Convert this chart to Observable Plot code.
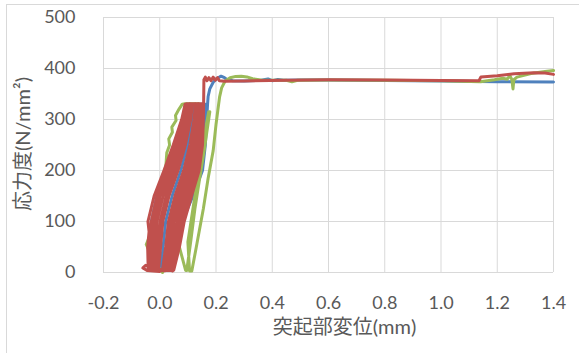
<!DOCTYPE html>
<html><head><meta charset="utf-8">
<script src="https://cdn.jsdelivr.net/npm/d3@7"></script>
<script src="https://cdn.jsdelivr.net/npm/@observablehq/plot@0.6"></script>
<style>
html,body{margin:0;padding:0;background:#fff;}
#wrap{position:relative;width:579px;height:353px;overflow:hidden;}
#border{position:absolute;left:6px;top:4px;width:700px;height:500px;border-top:1px solid #d9d9d9;border-left:1px solid #d9d9d9;}
#chart{position:absolute;left:0;top:0;}
</style>
</head><body>
<div id="wrap"><div id="border"></div><div id="chart"></div></div>
<script>
const xTicks = [-0.2, 0.0, 0.2, 0.4, 0.6, 0.8, 1.0, 1.2, 1.4];
const yTicks = [0, 100, 200, 300, 400, 500];
const xTitle = "突起部変位(mm)";
const yTitle = "応力度(N/mm²)";

// series 1 (blue): [displacement mm, stress N/mm2]
const blueXY = [
  [0.003,5],[0.012,50],[0.021,100],[0.044,150],[0.075,200],[0.099,250],[0.116,300],[0.122,330],
  [0.15,330],[0.148,300],[0.14,250],[0.125,200],[0.1,150],[0.075,100],[0.055,50],[0.04,5],
  [-0.03,5],[-0.03,50],[-0.03,100],[-0.01,150],[0.025,200],[0.06,250],[0.09,300],[0.1,330],
  [0.163,330],[0.16,300],[0.156,250],[0.148,200],[0.115,150],[0.08,100],[0.055,50],[0.038,5],
  [0.042,5],[0.058,50],[0.08,100],[0.118,150],[0.152,200],[0.162,250],[0.167,300],[0.17,330],
  [0.172,345],[0.178,360],[0.19,373],[0.205,381],[0.218,385],[0.23,382],[0.24,378],[0.26,376],
  [0.3,375.5],[0.36,377],[0.385,379.5],[0.4,376],[0.42,378.5],[0.44,377],[0.5,377.5],[0.6,377.5],
  [0.8,376.5],[1.0,375.5],[1.2,374],[1.4,373.5]
];

// series 2 (green)
const greenXY = [
  [0.01,0],[-0.02,20],[-0.048,55],[-0.03,80],[-0.01,130],[0.005,170],[0.022,210],[0.025,235],
  [0.035,250],[0.032,262],[0.045,275],[0.043,285],[0.058,298],[0.056,308],[0.068,320],[0.08,330],
  [0.09,331],[0.14,331],[0.13,250],[0.11,180],[0.08,110],[0.065,60],[0.092,4],
  [0.096,4],[0.11,60],[0.125,125],[0.142,185],[0.158,239],[0.17,285],[0.178,315],
  [0.174,315],[0.164,285],[0.152,239],[0.135,185],[0.118,125],[0.1,60],[0.106,3],
  [0.114,3],[0.13,50],[0.155,125],[0.172,185],[0.19,239],[0.2,290],[0.207,320],[0.213,345],
  [0.22,362],[0.232,375],[0.25,382],[0.27,384.5],[0.29,385],[0.31,383.5],[0.33,380],[0.36,377.5],
  [0.45,377],[0.47,374],[0.49,377],[0.6,377.5],[0.8,377],[1.0,376],[1.14,374],[1.19,378],
  [1.22,381],[1.235,379],[1.245,386],[1.252,378],[1.256,360],[1.259,378],[1.27,383],[1.32,390],
  [1.37,394],[1.4,396]
];

// series 3 (red)
const redXY = [
  [0.0,2],[-0.045,4],[-0.06,9],[-0.05,14],[-0.035,10],[-0.04,5],
  [-0.041,5],[-0.043,50],[-0.038,80],[-0.042,100],[-0.02,150],[0.015,200],[0.048,250],[0.078,300],[0.09,330],
  [0.127,331],[0.122,300],[0.107,250],[0.085,200],[0.054,150],[0.031,100],[0.021,50],[0.010,6],
  [-0.033,8],[-0.034,50],[-0.030,100],[-0.009,150],[0.025,200],[0.058,250],[0.086,300],[0.095,331],
  [0.132,330],[0.128,300],[0.115,250],[0.095,200],[0.065,150],[0.041,100],[0.030,50],[0.018,3],
  [-0.026,6],[-0.024,50],[-0.020,100],[0.001,150],[0.035,200],[0.066,250],[0.092,300],[0.101,330],
  [0.138,331],[0.134,300],[0.123,250],[0.105,200],[0.076,150],[0.051,100],[0.039,50],[0.025,4],
  [-0.018,3],[-0.015,50],[-0.010,100],[0.012,150],[0.045,200],[0.074,250],[0.098,300],[0.106,331],
  [0.143,330],[0.140,300],[0.132,250],[0.115,200],[0.086,150],[0.062,100],[0.048,50],[0.032,7],
  [-0.011,5],[-0.006,50],[0.001,100],[0.023,150],[0.055,200],[0.083,250],[0.104,300],[0.111,330],
  [0.148,331],[0.146,300],[0.140,250],[0.125,200],[0.097,150],[0.072,100],[0.057,50],[0.039,4],
  [-0.004,6],[0.003,50],[0.011,100],[0.033,150],[0.065,200],[0.091,250],[0.110,300],[0.116,330],
  [0.152,330],[0.151,300],[0.146,250],[0.133,200],[0.105,150],[0.079,100],[0.063,50],[0.045,3],
  [0.05,5],[0.070,50],[0.087,100],[0.113,150],[0.140,200],[0.152,250],[0.155,300],[0.156,331],
  [0.157,378],[0.162,383],[0.168,376],[0.175,382],[0.182,376],[0.19,383],[0.197,377],[0.205,382],
  [0.212,376],[0.23,375],[0.3,375.5],[0.45,377],[0.6,378],[0.8,377.5],[1.0,376.5],[1.135,376],
  [1.142,383.5],[1.2,386],[1.26,389.5],[1.33,391.5],[1.37,391],[1.4,388.5]
];

const series = [
  {name: "blue", color: "#4F81BD", data: blueXY},
  {name: "green", color: "#9BBB59", data: greenXY},
  {name: "red", color: "#C0504D", data: redXY}
];

const font = "Lato, 'Noto Sans CJK JP', sans-serif";
const grid = "#d9d9d9";

const chart = Plot.plot({
  width: 579,
  height: 353,
  marginLeft: 103,
  marginRight: 26,
  marginTop: 17,
  marginBottom: 81,
  style: {fontFamily: font, fontSize: "18px", color: "#595959", background: "transparent", overflow: "visible"},
  x: {domain: [-0.2, 1.4]},
  y: {domain: [0, 500]},
  marks: [
    Plot.gridX(xTicks, {stroke: grid, strokeOpacity: 1}),
    Plot.gridY(yTicks, {stroke: grid, strokeOpacity: 1}),
    Plot.axisX(xTicks, {tickSize: 0, tickPadding: 24, tickFormat: d => d.toFixed(1), fontSize: 18, label: null}),
    Plot.axisY(yTicks, {tickSize: 0, tickPadding: 28, fontSize: 18, label: null}),
    ...series.map(s => Plot.line(s.data, {x: d => d[0], y: d => d[1], stroke: s.color, strokeWidth: 3, strokeLinejoin: "round", strokeLinecap: "round"})),
    Plot.text([xTitle], {frameAnchor: "bottom", text: d => d, dx: 16, dy: 61, fontSize: 20, fill: "#595959", textAnchor: "middle"}),
    Plot.text([yTitle], {frameAnchor: "left", text: d => d, dx: -80, dy: -1, rotate: -90, fontSize: 20, fill: "#595959", textAnchor: "middle"})
  ]
});
document.getElementById("chart").appendChild(chart);
</script>
</body></html>
